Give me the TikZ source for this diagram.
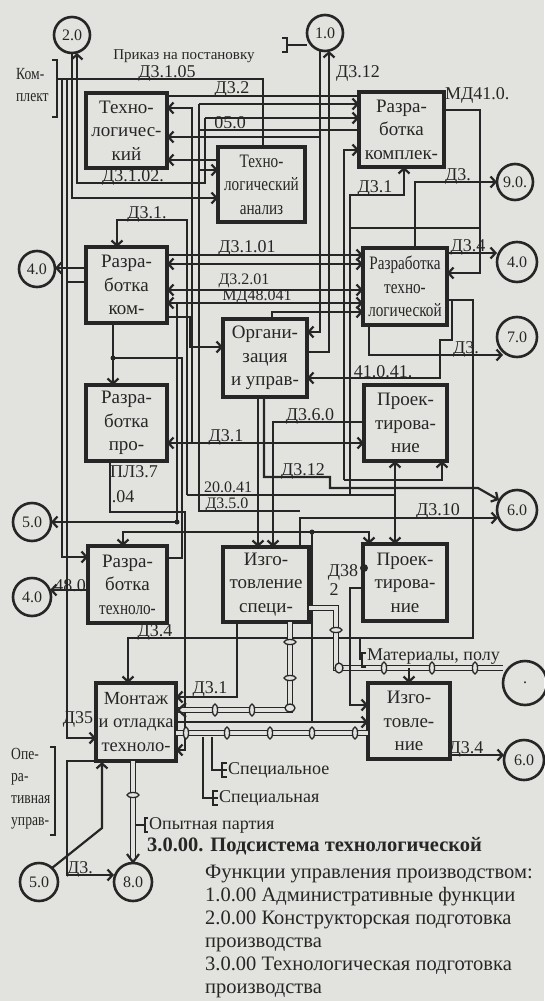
\documentclass[tikz,border=0pt]{standalone}
\usepackage{fontspec}
\setmainfont{Liberation Serif}
\newfontfamily\condfont[FakeStretch=0.8]{Liberation Serif}
\usetikzlibrary{arrows.meta}
\definecolor{ink}{RGB}{38,38,38}
\definecolor{bgc}{RGB}{226,226,222}
\begin{document}
\begin{tikzpicture}[x=1pt,y=-1pt,
  ln/.style={draw=ink,line width=2.2pt},
  arr/.style={ln,-{Straight Barb[length=5pt,width=11pt]}},
  arrtwo/.style={ln,{Straight Barb[length=5pt,width=11pt]}-{Straight Barb[length=5pt,width=11pt]}},
  thinln/.style={draw=ink,line width=1.2pt},
  pipe/.style={draw=ink,line width=1.5pt,double=bgc,double distance=3.5pt},
  mk/.style={draw=ink,line width=1.3pt,fill=bgc},
  box/.style={draw=ink,line width=3.5pt,inner sep=0pt,align=center,text=ink,font=\fontsize{19}{23.5}\selectfont},
  cbox/.style={box,font=\condfont\fontsize{19}{23.5}\selectfont},
  circ/.style={circle,draw=ink,line width=2.6pt,inner sep=0pt,text=ink,font=\fontsize{16}{16}\selectfont},
  lab/.style={inner sep=0pt,text=ink,font=\fontsize{18}{18}\selectfont},
  slab/.style={inner sep=0pt,text=ink,font=\fontsize{16}{16}\selectfont},
  side/.style={inner sep=0pt,text=ink,align=left,font=\condfont\fontsize{17}{22}\selectfont},
  btxt/.style={inner sep=0pt,text=ink,anchor=base west,font=\fontsize{20.5}{24}\selectfont},
  dotn/.style={circle,fill=ink,inner sep=0pt,minimum size=5pt},
]
\useasboundingbox (0,0) rectangle (544,1001);
\fill[bgc] (0,0) rectangle (544,1001);

% ---------- boxes ----------
\node[box,minimum width=81,minimum height=75] (b1) at (126.5,130.5) {Техно-\\логичес-\\кий};
\node[box,minimum width=87,minimum height=75,font=\condfont\fontsize{19}{23.5}\selectfont] (b2) at (261.5,184.5) {Техно-\\логический\\анализ};
\node[box,minimum width=85,minimum height=75] (b3) at (401.5,129.5) {Разра-\\ботка\\комплек-};
\node[box,minimum width=81,minimum height=76] (b4) at (126.5,285) {Разра-\\ботка\\ком-};
\node[cbox,minimum width=84,minimum height=77] (b5) at (405,286.5) {Разработка\\техно-\\логической};
\node[box,minimum width=84,minimum height=78] (b6) at (265,358) {Органи-\\зация\\и управ-};
\node[box,minimum width=81,minimum height=76] (b7) at (126.5,423) {Разра-\\ботка\\про-};
\node[box,minimum width=83,minimum height=76] (b8) at (405.5,423) {Проек-\\тирова-\\ние};
\node[box,minimum width=79,minimum height=77] (b9) at (127.5,584.5) {Разра-\\ботка\\{\condfont техноло-}};
\node[box,minimum width=86,minimum height=75] (b10) at (266,584.5) {Изго-\\товление\\специ-};
\node[box,minimum width=84,minimum height=77] (b11) at (405,582.5) {Проек-\\тирова-\\ние};
\node[box,minimum width=80,minimum height=78,font=\fontsize{18.5}{23.5}\selectfont] (b12) at (136,722) {Монтаж\\и отладка\\техноло-};
\node[box,minimum width=82,minimum height=76] (b13) at (409,721) {Изго-\\товле-\\ние};

% ---------- circles ----------
\node[circ,minimum size=36] (c20) at (72,35) {2.0};
\node[circ,minimum size=36] (c10) at (325,33) {1.0};
\node[circ,minimum size=36] (c90) at (515,182) {9.0.};
\node[circ,minimum size=40] (c40r) at (517,262) {4.0};
\node[circ,minimum size=40] (c70) at (517,337) {7.0};
\node[circ,minimum size=36] (c40l) at (37,269) {4.0};
\node[circ,minimum size=38] (c50l) at (32,522) {5.0};
\node[circ,minimum size=38] (c40b) at (32,597) {4.0};
\node[circ,minimum size=40] (c60) at (517,510) {6.0};
\node[circ,minimum size=44] (cdt) at (525,683) {.};
\node[circ,minimum size=40] (c60b) at (524,760) {6.0};
\node[circ,minimum size=38] (c50b) at (39,882) {5.0};
\node[circ,minimum size=38] (c80) at (133,882) {8.0};

% ---------- top region ----------
\draw[ln] (62,79) -- (263,79) -- (263,147);
\draw[arr] (62,79) -- (62,557) -- (88,557);
\draw[arr] (67,79) -- (67,738) -- (96,738);
\draw[arr] (72,53) -- (72,198) -- (218,198);
\draw[arr] (205,118) -- (205,183) -- (77,183) -- (77,53);
\draw[arr] (205,118) -- (359,118);
\draw[ln] (167,96) -- (359,96);
\draw[arr] (199,104) -- (359,104);
\draw[ln] (199,104) -- (199,511) -- (300,511);
\draw[arr] (199,170) -- (218,170);
\draw[ln] (199,130) -- (359,130);
\draw[arr] (320,137) -- (167,137);
\draw[arr] (192,443) -- (192,108) -- (167,108);
\draw[arr] (218,160) -- (167,160);
\draw[arr] (187,495) -- (187,220) -- (117,220) -- (117,247);
\draw[arr] (320,51) -- (320,332) -- (307,332);
\draw[arr] (307,352) -- (329,352) -- (329,51);
\draw[thinln] (282,38) -- (287,38) -- (287,52) -- (282,52);
\draw[thinln] (287,45) -- (307,45);
\draw[thinln] (52,60) -- (57,60) -- (57,117) -- (52,117);
\draw[thinln] (57,79) -- (62,79);
\draw[arr] (444,110) -- (480,110) -- (480,273) -- (447,273);
\draw[arr] (415,248) -- (415,182) -- (497,182);
\draw[arr] (350,495) -- (350,195) -- (404,195) -- (404,167);
\draw[ln] (350,228) -- (480,228);
\draw[arr] (344,480) -- (344,150) -- (359,150);
\draw[arr] (344,480) -- (442,480) -- (442,461);

% ---------- middle region ----------
\draw[arr] (86,268) -- (55,268);
\draw[ln] (86,282) -- (67,282);
\draw[arr] (167,255) -- (363,255);
\draw[arrtwo] (167,264) -- (363,264);
\draw[arrtwo] (167,290) -- (363,290);
\draw[arrtwo] (167,303) -- (363,303);
\draw[arr] (272,319) -- (272,312) -- (363,312);
\draw[arr] (167,317) -- (190,317) -- (190,347) -- (223,347);
\draw[arr] (113,323) -- (113,385);
\draw[ln] (113,358) -- (182,358) -- (182,558) -- (167,558);
\node[dotn] (d1) at (113,358) {};
\draw[arrtwo] (167,443) -- (364,443);
\draw[arr] (447,253) -- (497,253);
\draw[arr] (369,325) -- (369,355) -- (503,355);
\draw[arr] (452,300) -- (452,340) -- (440,340) -- (440,378) -- (307,378);
\draw[arr] (447,300) -- (473,300) -- (473,638) -- (128,638) -- (128,683);
\draw[arr] (364,422) -- (273,422) -- (273,547);
\draw[arr] (258,397) -- (258,547);
\draw[arr] (264,397) -- (264,477) -- (330,477) -- (330,488) -- (478,488) -- (499,500);
\draw[arr] (300,547) -- (300,518) -- (498,518);
\draw[ln] (187,495) -- (395,495);
\draw[arrtwo] (395,461) -- (395,544);
\draw[arrtwo] (123,546) -- (123,532) -- (369,532) -- (369,544);
\draw[ln] (312,532) -- (312,722);
\node[dotn] (d2) at (312,532) {};
\draw[arr] (110,461) -- (110,512) -- (185,512) -- (185,750) -- (176,750);
\draw[arr] (177,303) -- (177,522) -- (51,522);
\node[dotn] (d3) at (177,522) {};
\draw[arr] (88,590) -- (50,590);
\draw[arr] (237,622) -- (237,697) -- (176,697);

% ---------- lower region ----------
\draw[pipe] (290,622) -- (290,710) -- (178,710);
\draw[ln] (186,703) -- (178,710) -- (186,717);
\draw[pipe] (176,733) -- (368,733);
\draw[arr] (176,722) -- (368,722);
\draw[pipe] (309,608) -- (336,608) -- (336,668) -- (503,668);
\draw[arr] (409,668) -- (409,683);
\draw[pipe] (133,761) -- (133,860);
\draw[ln] (127,854) -- (133,862) -- (139,854);
\draw[arr] (363,588) -- (350,588) -- (350,705) -- (368,705);
\node[dotn,minimum size=8pt] (d4) at (364,568) {};
\draw[arr] (450,755) -- (504,755);
\draw[arr] (96,761) -- (67,761) -- (67,875) -- (114,875);
\draw[arr] (52,868) -- (102,828) -- (102,762);
\draw[thinln] (50,747) -- (55,747) -- (55,835) -- (50,835);
\draw[thinln] (203,737) -- (203,798) -- (218,798);
\draw[thinln] (212,737) -- (212,770) -- (227,770);
\draw[thinln] (227,763) -- (222,763) -- (222,777) -- (227,777);
\draw[thinln] (218,791) -- (213,791) -- (213,805) -- (218,805);
\draw[thinln] (136,825) -- (146,825);
\draw[thinln] (148,818) -- (145,818) -- (145,832) -- (148,832);
\draw[thinln] (360,638) -- (360,660);
\draw[thinln] (366,653) -- (362,653) -- (362,667) -- (366,667);

% pipe markers
\foreach \yy in {642,678} \draw[mk] (290,\yy) ellipse (6 and 2.5);
\draw[mk] (290,708) ellipse (5 and 4);
\foreach \xx in {215,252} \draw[mk] (\xx,710) ellipse (2.5 and 6);
\foreach \xx in {186,227,270,312,355} \draw[mk] (\xx,733) ellipse (2.5 and 6);
\draw[mk] (336,630) ellipse (6 and 2.5);
\draw[mk] (339,668) ellipse (4 and 5);
\foreach \xx in {384,432,475} \draw[mk] (\xx,668) ellipse (2.5 and 6);
\draw[mk] (133,795) ellipse (6 and 2.5);

% ---------- connector labels ----------
\node[lab] (l1) at (167,73) {Д3.1.05};
\node[lab] (l2) at (232,89) {Д3.2};
\node[lab] (l3) at (230,123) {05.0};
\node[lab] (l4) at (133,177) {Д3.1.02.};
\node[lab] (l5) at (147,214) {Д3.1.};
\node[lab] (l6) at (358,73) {Д3.12};
\node[lab,anchor=west] (l7) at (445,95) {МД41.0.};
\node[lab] (l8) at (458,176) {Д3.};
\node[lab] (l9) at (375,188) {Д3.1};
\node[lab] (l10) at (247,248) {Д3.1.01};
\node[slab] (l11) at (244,281) {Д3.2.01};
\node[slab] (l12) at (257,297) {МД48.041};
\node[lab] (l13) at (468,247) {Д3.4};
\node[lab] (l14) at (466,349) {Д3.};
\node[lab] (l15) at (383,372) {41.0.41.};
\node[lab] (l16) at (310,416) {Д3.6.0};
\node[lab] (l17) at (226,437) {Д3.1};
\node[lab] (l18) at (303,471) {Д3.12};
\node[lab] (l19) at (134,472) {ПЛ3.7};
\node[lab] (l20) at (123,497) {.04};
\node[slab] (l21) at (228,487) {20.0.41};
\node[slab] (l22) at (227,505) {Д3.5.0};
\node[lab] (l23) at (438,511) {Д3.10};
\node[lab] (l24) at (70,586) {48.0};
\node[lab] (l25) at (343,572) {Д38};
\node[lab] (l26) at (334,590) {2};
\node[lab] (l27) at (155,632) {Д3.4};
\node[lab,anchor=west] (l28) at (367,657) {Материалы, полу};
\node[lab] (l29) at (210,689) {Д3.1};
\node[lab] (l30) at (78,719) {Д35};
\node[lab] (l31) at (466,749) {Д3.4};
\node[lab,anchor=west] (l32) at (228,770) {Специальное};
\node[lab,anchor=west] (l33) at (219,798) {Специальная};
\node[lab,anchor=west] (l34) at (149,825) {Опытная партия};
\node[lab] (l35) at (80,869) {Д3.};
\node[lab,font=\fontsize{15}{15}\selectfont] (l36) at (184,56) {Приказ на постановку};

% ---------- side texts ----------
\node[side,anchor=north west] (s1) at (16,68) {Ком-\\плект};
\node[side,anchor=north west] (s2) at (11,748) {Опе-\\ра-\\тивная\\управ-};

% ---------- bottom text ----------
\node[btxt,font=\bfseries\fontsize{20.5}{24}\selectfont] (t0) at (147,851) {3.0.00. Подсистема технологической};
\node[btxt] (t1) at (205,878) {Функции управления производством:};
\node[btxt] (t2) at (205,901) {1.0.00 Административные функции};
\node[btxt] (t3) at (205,924) {2.0.00 Конструкторская подготовка};
\node[btxt] (t4) at (205,947) {производства};
\node[btxt] (t5) at (205,970) {3.0.00 Технологическая подготовка};
\node[btxt] (t6) at (205,993) {производства};
\end{tikzpicture}
\end{document}
